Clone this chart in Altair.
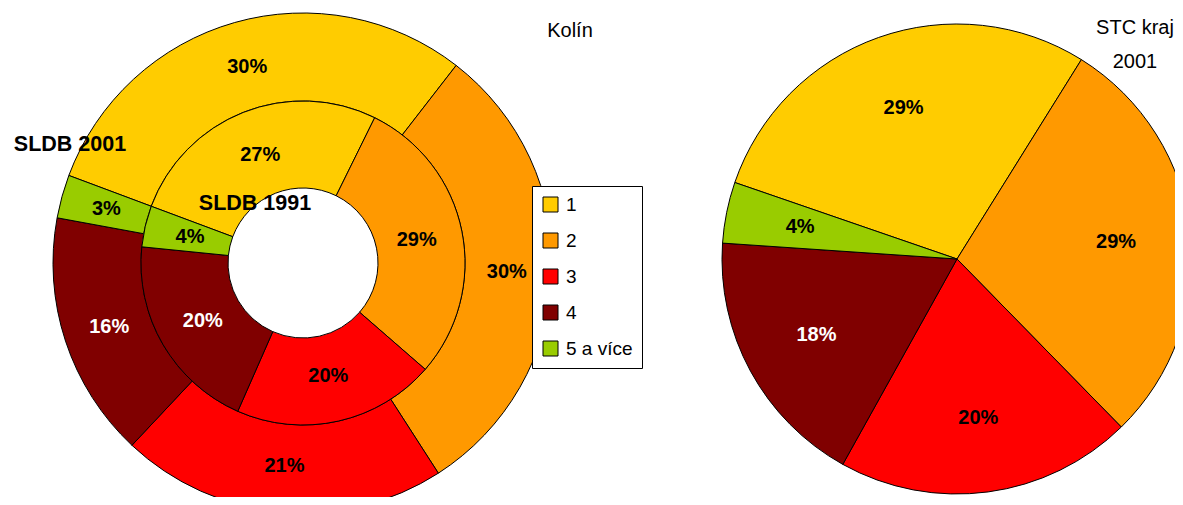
import math
import altair as alt
import pandas as pd

# ---- data ----
kategorie = ["1", "2", "3", "4", "5 a více"]
barvy = ["#FFCC00", "#FF9900", "#FF0000", "#800000", "#99CC00"]
kolin_2001 = [29.8, 30.4, 21.1, 15.9, 2.8]   # outer ring (SLDB 2001)
kolin_1991 = [26.6, 29.1, 20.2, 20.0, 4.1]   # inner ring (SLDB 1991)
stc_2001 = [28.6, 28.8, 20.4, 18.0, 4.2]     # STC kraj 2001 pie

FONT = "Liberation Sans Narrow, Arial Narrow, Liberation Sans, Arial, sans-serif"


def frame(vals):
    return pd.DataFrame({
        "kat": kategorie,
        "poradi": list(range(len(kategorie))),
        "hodnota": vals,
        "popis": [f"{round(v)}%" for v in vals],
    })


color = alt.Color(
    "kat:N",
    scale=alt.Scale(domain=kategorie, range=barvy),
    legend=alt.Legend(
        title=None, orient="none", legendX=524, legendY=178,
        symbolType="square", symbolSize=225, symbolStrokeColor="black",
        symbolStrokeWidth=1, symbolOpacity=1,
        labelFont=FONT, labelFontSize=19, labelColor="black", labelOffset=6,
        strokeColor="black", fillColor="white", padding=9, rowPadding=16,
    ),
)
text_color = alt.condition(alt.datum.kat == "4", alt.value("white"), alt.value("black"))


def ring(vals, cx, cy, r_in, r_out, start_deg, r_label):
    a = math.radians(start_deg)
    theta = alt.Theta("hodnota:Q", stack=True,
                      scale=alt.Scale(domain=[0, 100], range=[a, a + 2 * math.pi]))
    base = alt.Chart(frame(vals)).encode(
        theta=theta, order=alt.Order("poradi:Q"),
        x=alt.value(cx), y=alt.value(cy),
    )
    arc = base.mark_arc(radius=r_out, radius2=r_in, stroke="black", strokeWidth=1).encode(color=color)
    txt = base.mark_text(radius=r_label, font=FONT, fontSize=20, fontWeight="bold").encode(
        text="popis:N", color=text_color)
    return [arc, txt]


layers = []
layers += ring(kolin_2001, 295, 255, 162, 250, 290.5, 204)
layers += ring(kolin_1991, 295, 255, 75, 162, 290.5, 116)
layers += ring(stc_2001, 949, 251, 0, 235, 289, 160)

ann = pd.DataFrame({"t": ["x"]})
titles = [
    alt.Chart(ann).mark_text(text="Kolín", font=FONT, fontSize=20, color="black").encode(
        x=alt.value(562), y=alt.value(23)),
    alt.Chart(ann).mark_text(text="STC kraj\n2001", lineBreak="\n", lineHeight=34, font=FONT,
                             fontSize=20, color="black", baseline="middle").encode(
        x=alt.value(1127), y=alt.value(20)),
    alt.Chart(ann).mark_text(text="SLDB 2001", font=FONT, fontSize=21.5, fontWeight="bold",
                             color="black").encode(x=alt.value(62), y=alt.value(137)),
    alt.Chart(ann).mark_text(text="SLDB 1991", font=FONT, fontSize=21.5, fontWeight="bold",
                             color="black").encode(x=alt.value(247), y=alt.value(196)),
]

chart = alt.layer(*layers, *titles).resolve_scale(theta="independent").properties(
    width=1167, height=489, autosize=alt.AutoSizeParams(type="none"), padding=0,
    background="white",
).configure_view(stroke=None)

chart.save("out.html", embed_options={"renderer": "svg", "actions": False})
